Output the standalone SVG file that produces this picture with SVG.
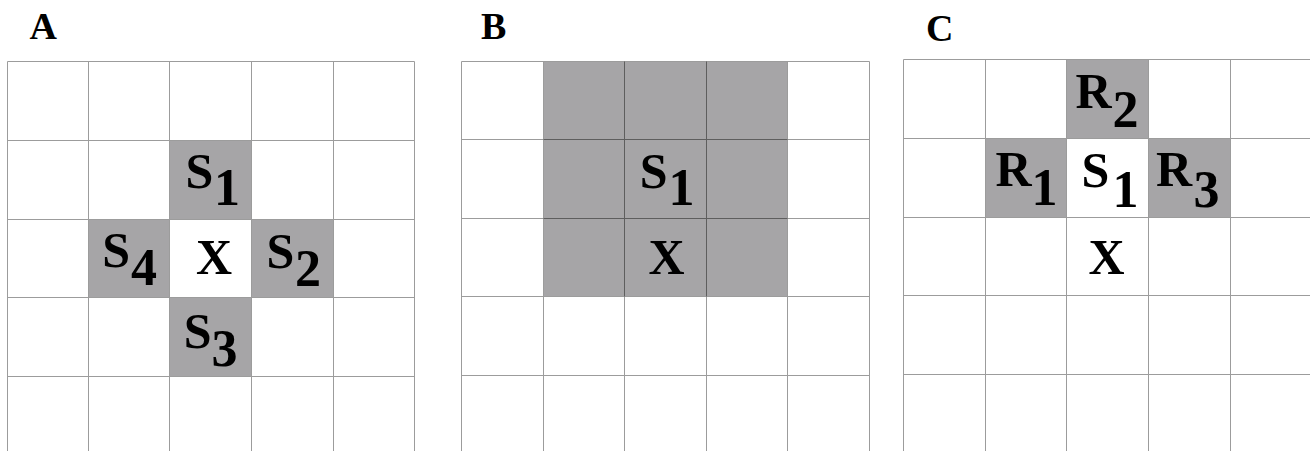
<svg xmlns="http://www.w3.org/2000/svg" width="1310" height="451" viewBox="0 0 1310 451">
<style>
.bg{fill:#ffffff}
.cell{fill:#a6a5a7;stroke:none}
.grid{stroke:#9c9c9c;stroke-width:1;fill:none}
.gridd{stroke:#5e5e5e;stroke-width:1;fill:none}
text{font-family:"Liberation Serif","Times New Roman",serif;font-weight:bold;fill:#000}
.lbl{font-size:50px}
.sub{font-size:52px}
.pl{font-size:38px}
</style>
<rect class="bg" x="0" y="0" width="1310" height="451"/>

<g id="panelA">
  <text class="pl" x="29.5" y="39">A</text>
  <g id="A-shade">
    <rect class="cell" x="169.5" y="140.5" width="82" height="79"/>
    <rect class="cell" x="88.5" y="219.5" width="81" height="78"/>
    <rect class="cell" x="251.5" y="219.5" width="82" height="78"/>
    <rect class="cell" x="169.5" y="297.5" width="82" height="79"/>
  </g>
  <g id="A-grid" class="grid">
    <path d="M7.5 61.5H414.5M7.5 140.5H414.5M7.5 219.5H414.5M7.5 297.5H414.5M7.5 376.5H414.5"/>
    <path d="M7.5 61.5V451M88.5 61.5V451M169.5 61.5V451M251.5 61.5V451M333.5 61.5V451M414.5 61.5V451"/>
  </g>
  <g id="A-S1"><text class="lbl"><tspan x="185.5" y="187.5">S</tspan><tspan class="sub" x="214" y="205">1</tspan></text></g>
  <g id="A-S4"><text class="lbl"><tspan x="102.2" y="267">S</tspan><tspan class="sub" x="131" y="285">4</tspan></text></g>
  <g id="A-X"><text class="lbl" x="196" y="274">X</text></g>
  <g id="A-S2"><text class="lbl"><tspan x="266.5" y="267.5">S</tspan><tspan class="sub" x="295" y="286">2</tspan></text></g>
  <g id="A-S3"><text class="lbl"><tspan x="183.8" y="347.5">S</tspan><tspan class="sub" x="211.5" y="366">3</tspan></text></g>
</g>

<g id="panelB">
  <text class="pl" x="481" y="39">B</text>
  <rect class="cell" x="543.5" y="61.5" width="244" height="235"/>
  <g id="B-grid" class="grid">
    <path d="M461.5 61.5H869.5M461.5 139.5H869.5M461.5 218.5H869.5M461.5 296.5H869.5M461.5 375.5H869.5"/>
    <path d="M461.5 61.5V451M543.5 61.5V451M624.5 61.5V451M706.5 61.5V451M787.5 61.5V451M869.5 61.5V451"/>
  </g>
  <g class="gridd">
    <path d="M543.5 139.5H787.5M543.5 218.5H787.5M624.5 61.5V296.5M706.5 61.5V296.5"/>
  </g>
  <g id="B-S1"><text class="lbl"><tspan x="639.8" y="188">S</tspan><tspan class="sub" x="668.5" y="205">1</tspan></text></g>
  <g id="B-X"><text class="lbl" x="648.5" y="274">X</text></g>
</g>

<g id="panelC">
  <text class="pl" x="926" y="40.5">C</text>
  <g id="C-shade">
    <rect class="cell" x="1066.5" y="59.5" width="82" height="79"/>
    <rect class="cell" x="985.5" y="138.5" width="81" height="79"/>
    <rect class="cell" x="1148.5" y="138.5" width="82" height="79"/>
  </g>
  <g id="C-grid" class="grid">
    <path d="M903.5 59.5H1310M903.5 138.5H1310M903.5 217.5H1310M903.5 295.5H1310M903.5 374.5H1310"/>
    <path d="M903.5 59.5V451M985.5 59.5V451M1066.5 59.5V451M1148.5 59.5V451M1230.5 59.5V451"/>
  </g>
  <g id="C-R2"><text class="lbl"><tspan x="1075.5" y="107.5">R</tspan><tspan class="sub" x="1112.5" y="126.5">2</tspan></text></g>
  <g id="C-R1"><text class="lbl"><tspan x="995.5" y="186">R</tspan><tspan class="sub" x="1031.5" y="205">1</tspan></text></g>
  <g id="C-S1"><text class="lbl"><tspan x="1081.5" y="187">S</tspan><tspan class="sub" x="1112.5" y="207">1</tspan></text></g>
  <g id="C-R3"><text class="lbl"><tspan x="1156" y="186">R</tspan><tspan class="sub" x="1193.5" y="206.5">3</tspan></text></g>
  <g id="C-X"><text class="lbl" x="1088.5" y="274">X</text></g>
</g>

<g id="connectors"></g>
</svg>
